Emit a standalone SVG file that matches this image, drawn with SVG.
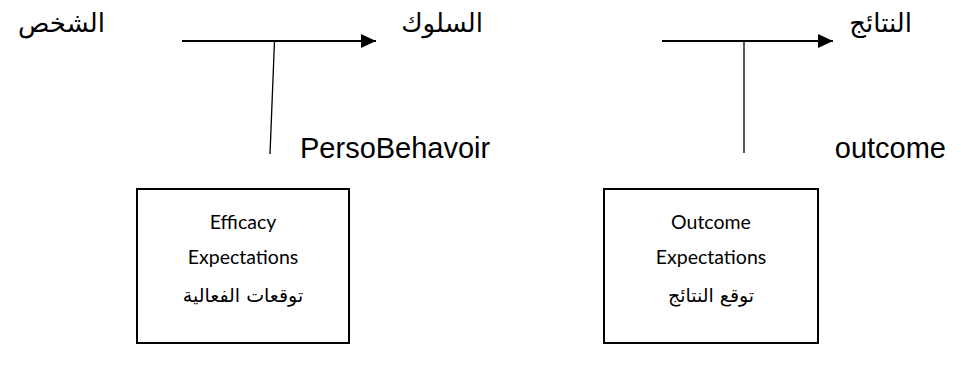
<svg xmlns="http://www.w3.org/2000/svg" width="961" height="369" viewBox="0 0 961 369">
<style>
.lbl{font-family:"Liberation Sans","DejaVu Sans",sans-serif;font-size:29px;fill:#000}
.ar{font-family:"Liberation Sans","DejaVu Sans",sans-serif;font-size:26px;fill:#000;direction:rtl}
.bt{font-family:Lato,"Open Sans","Liberation Sans",sans-serif;font-size:19.5px;fill:#000;text-anchor:middle}
.bar{font-family:"DejaVu Sans",sans-serif;font-size:19px;fill:#000;text-anchor:middle;direction:rtl}
.ln{stroke:#000;stroke-width:2;fill:none}
.thin{stroke:#000;stroke-width:1.3;fill:none}
.box{stroke:#000;stroke-width:2;fill:#fff}
</style>
<defs>
<marker id="ah" markerWidth="16" markerHeight="14" refX="15" refY="7" orient="auto" markerUnits="userSpaceOnUse">
<path d="M0,0 L15,7 L0,14 Z" fill="#000"/>
</marker>
</defs>
<g id="person"><text class="ar" x="105" y="32" text-anchor="start">الشخص</text></g>
<g id="behavior"><text class="ar" x="483" y="32" text-anchor="start">السلوك</text></g>
<g id="outcomes"><text class="ar" x="912" y="32" text-anchor="start">النتائج</text></g>
<g id="persobehavoir"><text class="lbl" x="300" y="158">PersoBehavoir</text></g>
<g id="outcome"><text class="lbl" x="946" y="158" text-anchor="end">outcome</text></g>
<g id="connectors">
<line class="ln" x1="182" y1="41" x2="376" y2="41" marker-end="url(#ah)"/>
<line class="thin" x1="274.5" y1="41" x2="270" y2="154"/>
<line class="ln" x1="662" y1="41" x2="833" y2="41" marker-end="url(#ah)"/>
<line class="thin" x1="744" y1="41" x2="744" y2="153"/>
</g>
<g id="efficacy">
<rect class="box" x="137" y="189" width="212" height="154"/>
<text class="bt" x="243" y="229">Efficacy</text>
<text class="bt" x="243" y="264">Expectations</text>
<text class="bar" x="243" y="302">توقعات الفعالية</text>
</g>
<g id="outcomeexp">
<rect class="box" x="604" y="189" width="214" height="154"/>
<text class="bt" x="711" y="229">Outcome</text>
<text class="bt" x="711" y="264">Expectations</text>
<text class="bar" x="711" y="302">توقع النتائج</text>
</g>
</svg>
